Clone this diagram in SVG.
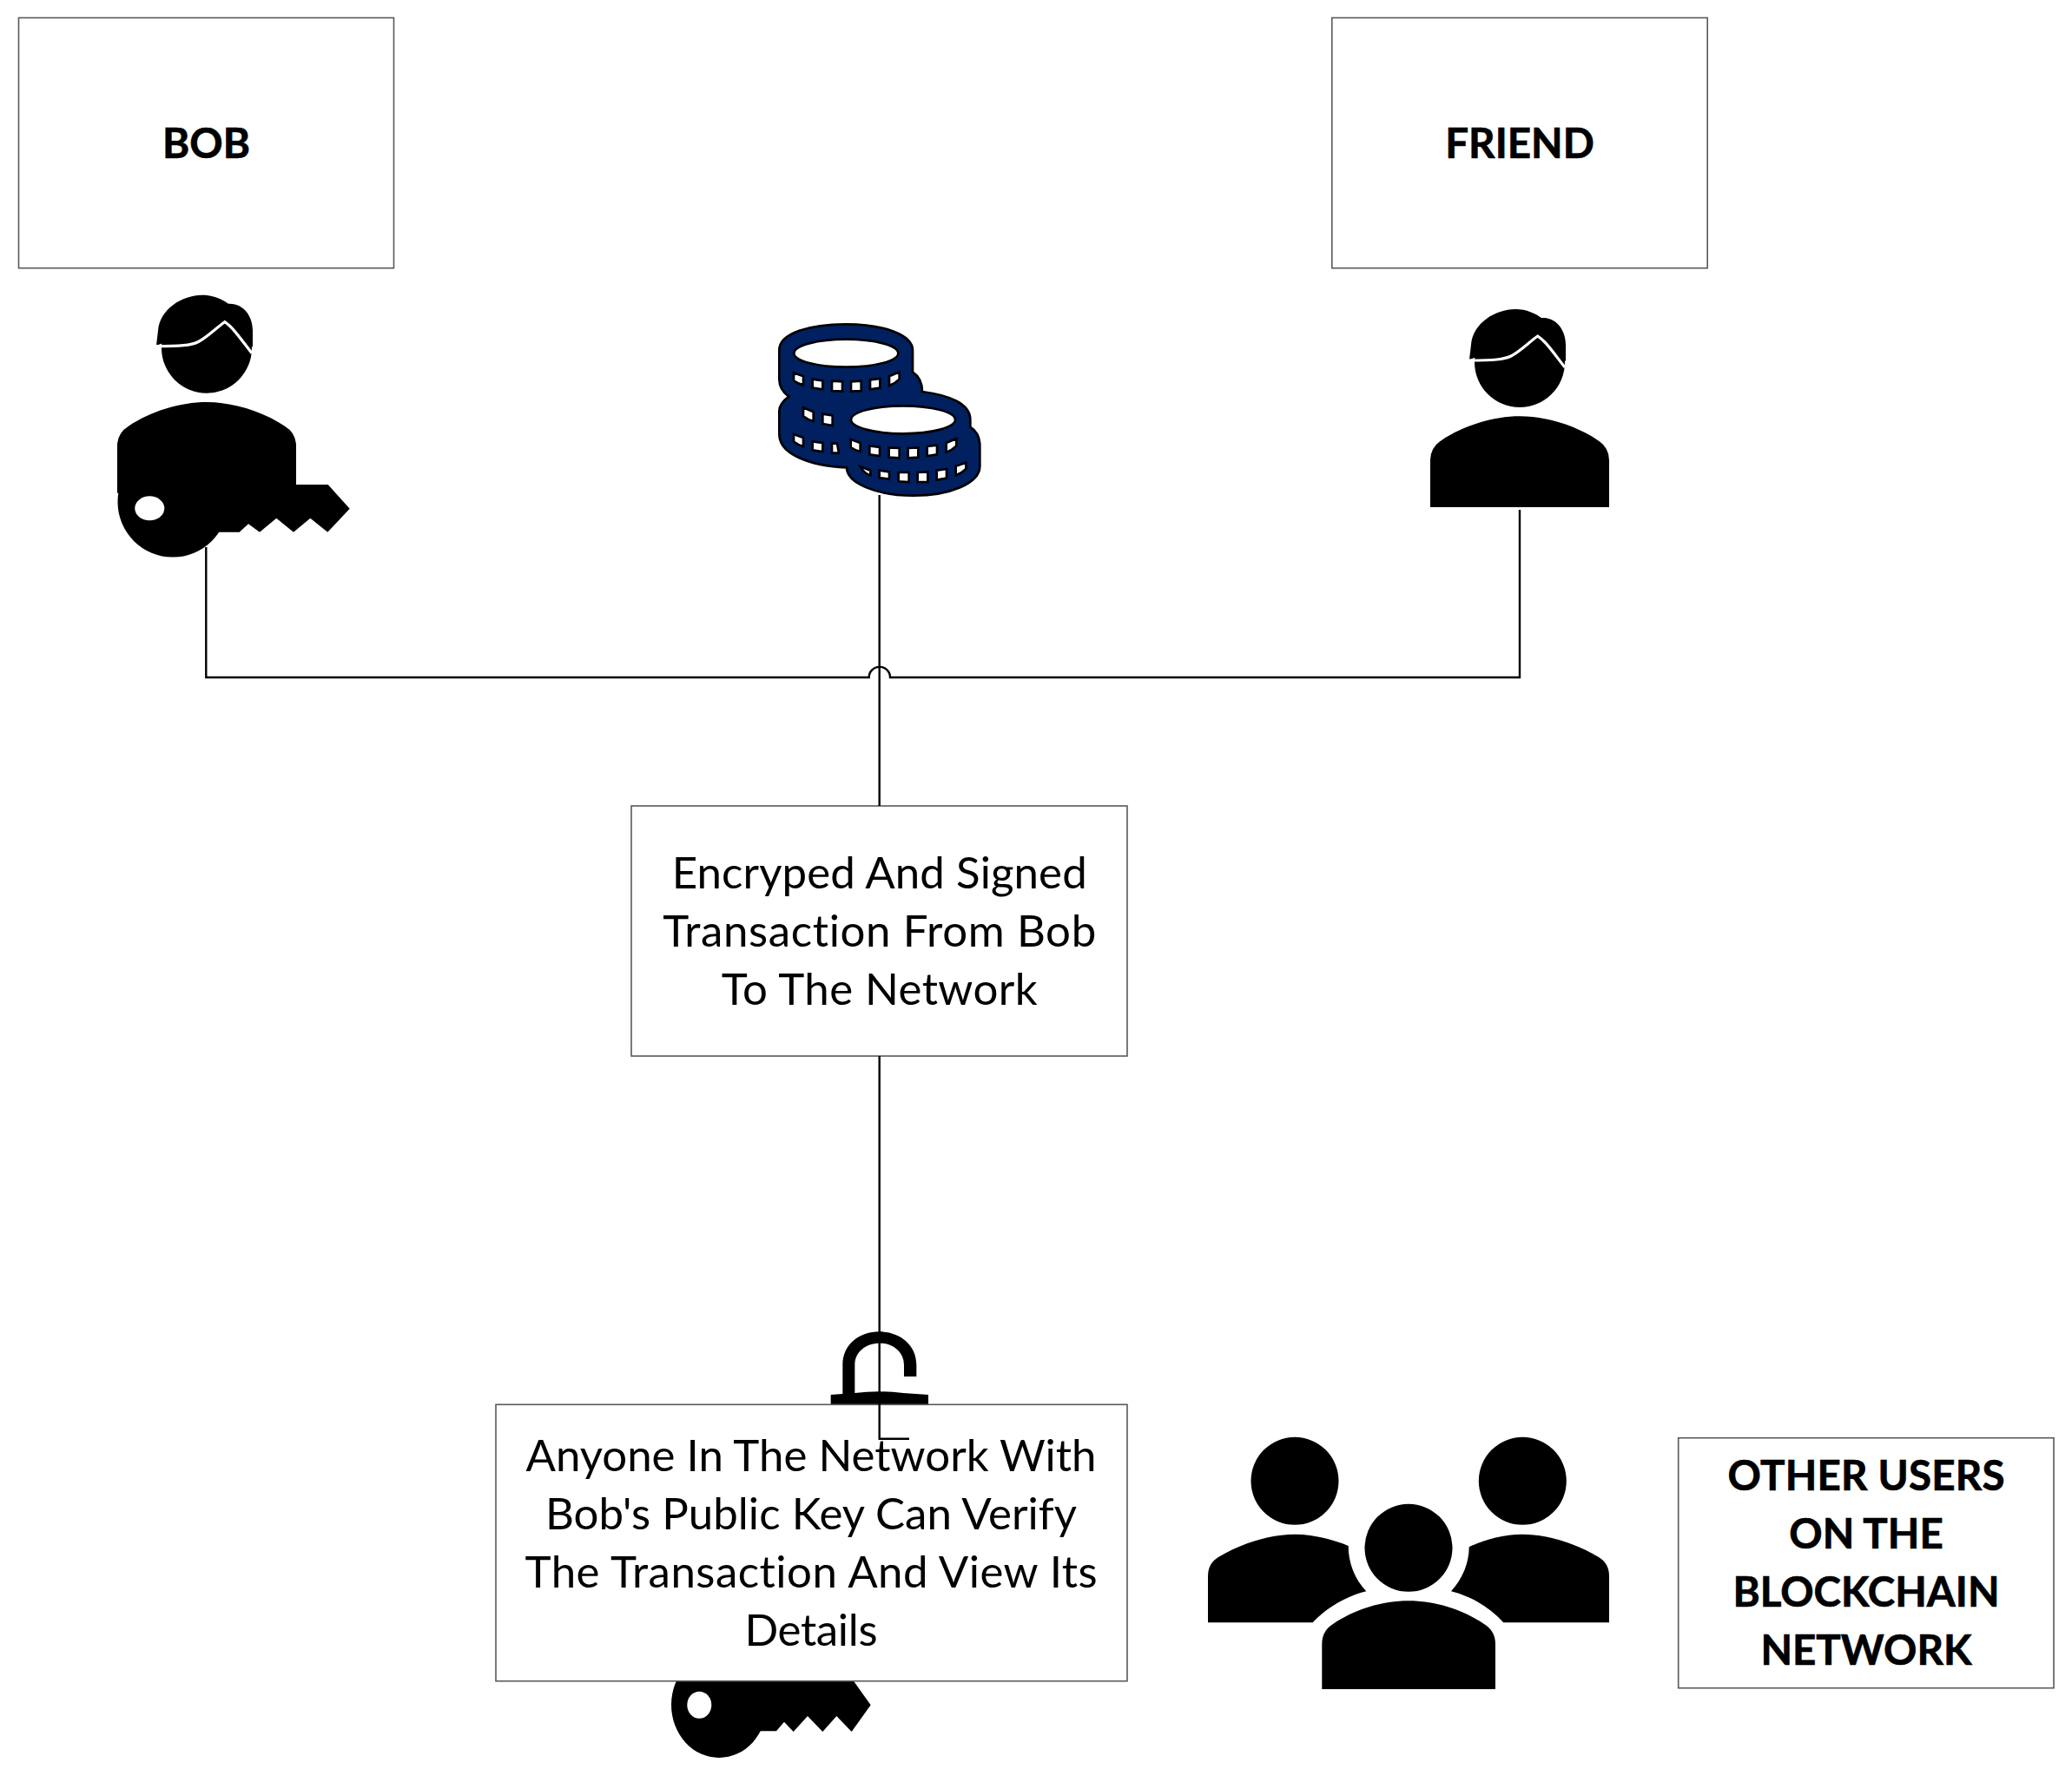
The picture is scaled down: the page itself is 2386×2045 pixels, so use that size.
<svg xmlns="http://www.w3.org/2000/svg" width="2386" height="2045" viewBox="0 0 2386 2045">
<style>
.box{fill:#fff;stroke:#595959;stroke-width:1.6}
.t{font-family:"Lato","Liberation Sans",sans-serif;font-size:51px;text-anchor:middle;fill:#000;font-variant-ligatures:none}
.b{font-weight:700;font-size:47.500px;stroke:#000;stroke-width:.7}
.c{fill:none;stroke:#000;stroke-width:2.4}
.win{fill:#fff;stroke:#000;stroke-width:8;stroke-linejoin:miter}
</style>
<defs>
<g id="person">
<circle cx="0" cy="0" r="52"/>
<path d="M-58-3L-56-20C-54-45-28-61-5-61C8-61 18-56 25-51C42-52 53-37 53-20L53-1L20-30Z"/>
<path d="M-103 167V113Q-103 98-90 90C-65 73-30 62.300 0 62.300C30 62.300 65 73 90 90Q103 98 103 113V167Z"/>
<path d="M-58-2C-30-2-18-3-10-7C0-12 12-24 20.700-30C30-24 38-12 52 6" fill="none" stroke="#fff" stroke-width="3.200"/>
</g>
</defs>
<rect width="2386" height="2045" fill="#fff"/>

<g id="node-bob-label"><rect class="box" x="21.500" y="20.500" width="432" height="288.200"/><text class="t b" x="237.500" y="181.700">BOB</text></g>
<g id="node-friend-label"><rect class="box" x="1533.800" y="20.500" width="432.400" height="288.200"/><text class="t b" x="1750" y="181.700">FRIEND</text></g>

<g id="node-bob">
<use href="#person" transform="translate(238 400.700)"/>
<circle cx="199" cy="578" r="63.500"/>
<path d="M240 558H377.700L402.700 585.700L377.300 612.700L357.300 596.700L338 612.700L318.300 596.700L299 612.700L286 603.300L275.700 612.700H250L200 600Z"/>
<ellipse cx="172.300" cy="585.300" rx="17" ry="14" fill="#fff"/>
</g>

<g id="node-coins" transform="translate(870 340) scale(.33333)">
<path fill="#002060" stroke="#000" stroke-width="8" d="M82 190C82 130 190 100 312 100C440 100 543 135 543 190V265C565 280 576 305 576 333C670 345 742 375 742 430V455C765 470 775 495 775 520V590C775 650 670 692 545 692C420 692 315 650 315 595C190 590 82 550 82 480V400C82 380 95 365 115 350C95 335 82 315 82 290Z"/>
<ellipse class="win" cx="313" cy="200" rx="180" ry="48"/>
<ellipse class="win" cx="510" cy="430" rx="180" ry="48"/>
<path class="win" d="M132 268L165 280V310Q145 305 132 295ZM197 290L232 295V325L197 320ZM264 296L300 298V332L264 330ZM330 298L365 296V330L330 332ZM396 292L430 288V320L396 325ZM462 280L497 265V290Q482 305 462 312ZM165 388L200 403V435Q180 430 165 418ZM232 410L266 415V450L232 444ZM132 480L165 492V522Q145 517 132 505ZM197 505L232 510V540L197 535ZM264 512H282L288 545H264ZM329 498L362 510V540Q342 535 329 525ZM394 520L429 525V555L394 550ZM461 526L497 528V562L461 560ZM527 528L562 526V560L527 562ZM593 522L627 518V550L593 555ZM659 510L694 495V520Q679 535 659 542ZM362 592L397 605V622Q378 618 362 592ZM428 605L462 610V635L428 630ZM494 612H530V645L494 643ZM560 612L595 610V645H560ZM626 605L660 600V632L626 638ZM692 590L727 578V600Q712 615 692 622Z"/>
</g>

<g id="node-friend"><use href="#person" transform="translate(1750 417)"/></g>

<g id="node-key">
<ellipse cx="828" cy="1963" rx="55" ry="61"/>
<path transform="translate(740 1920) scale(.33333)" d="M200 30H716L728 46L788 130L722 222L670 168L622 222L570 168L521 222L489 188L462 220H400L200 200Z"/>
<ellipse cx="805.300" cy="1963.300" rx="14" ry="15.500" fill="#fff"/>
</g>

<g id="node-transaction"><rect class="box" x="727" y="928" width="571" height="288"/>
<text class="t" x="1012.700" y="1022.500" textLength="478">Encryped And Signed</text>
<text class="t" x="1012.700" y="1089.500" textLength="499">Transaction From Bob</text>
<text class="t" x="1012.700" y="1156.500" textLength="364">To The Network</text></g>

<g id="node-lock" transform="translate(900 1500) scale(.33333)">
<path d="M211 320V215C211 145 268 100 338 100C408 100 466 145 466 215V255H423V215C423 170 385 140 338 140C291 140 253 170 253 215V320Z"/>
<path d="M170 318L253 312Q338 302 420 312L507 318V352H170Z"/>
</g>

<g id="node-verify"><rect class="box" x="571" y="1617.300" width="727" height="318.400"/>
<text class="t" x="934" y="1693.500" textLength="657">Anyone In The Network With</text>
<text class="t" x="934" y="1760.500" textLength="612">Bob's Public Key Can Verify</text>
<text class="t" x="934" y="1827.500" textLength="659">The Transaction And View Its</text>
<text class="t" x="934" y="1894.500" textLength="153">Details</text></g>

<g id="node-users">
<circle cx="1491" cy="1705.300" r="50.500"/><circle cx="1753.300" cy="1705.300" r="50.500"/><circle cx="1622" cy="1782.300" r="50.500"/>
<path d="M1391 1868.300V1815Q1391 1800 1403 1793C1430 1777 1462 1766.700 1491 1766.700C1513 1766.700 1535 1773 1552.700 1780C1552.700 1800 1560 1818 1573.300 1832.300C1550 1838 1525 1853 1511.700 1868.300Z"/>
<path d="M1853 1868.300V1815Q1853 1800 1841 1793C1814 1777 1782 1766.700 1753 1766.700C1731 1766.700 1709 1773 1691.700 1781.300C1691.700 1800 1684 1818 1671 1832.300C1695 1838 1718 1853 1731.300 1868.300Z"/>
<path d="M1522.300 1945V1893Q1522.300 1878 1535 1870C1560 1853 1592 1843.300 1622 1843.300C1652 1843.300 1684 1853 1709 1870Q1722 1878 1722 1893V1945Z"/>
</g>

<g id="node-others"><rect class="box" x="1932.700" y="1655.700" width="432.300" height="288"/>
<text class="t b" x="2149" y="1716" textLength="319">OTHER USERS</text>
<text class="t b" x="2149" y="1783">ON THE</text>
<text class="t b" x="2149" y="1850">BLOCKCHAIN</text>
<text class="t b" x="2149" y="1917">NETWORK</text></g>

<g id="connectors">
<path class="c" d="M237.300 630V780H1000.700A12.100 12.100 0 0 1 1025 780H1750V587"/>
<path class="c" d="M1012.700 570V928M1012.700 1216V1656.700H1047"/>
</g>
</svg>
